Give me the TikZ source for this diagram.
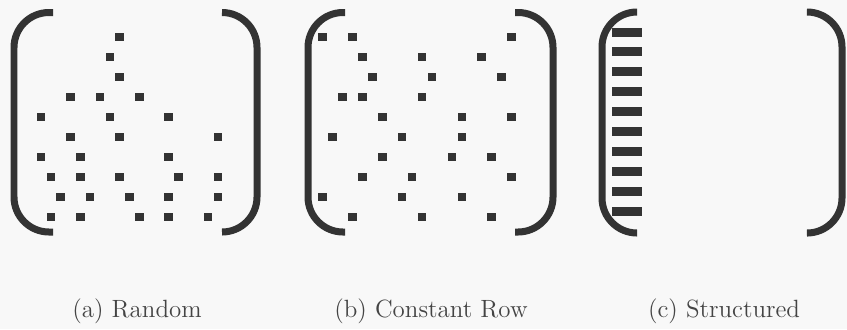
\documentclass[tikz,border=0pt]{standalone}
\usepackage{tikz}
\definecolor{mxink}  {HTML}{333333}
\definecolor{mxtext} {HTML}{444444}
\definecolor{mxpaper}{HTML}{F8F8F8}

\begin{document}
\begin{tikzpicture}[x=0.02cm, y=-0.02cm,
    bracket/.style={draw=mxink, line width=0.14cm, rounded corners=0.7cm},
    every node/.style={font=\fontsize{14.2}{17}\selectfont, text=mxtext}]
      \fill[mxpaper] (0,0) rectangle (847,329);
      \useasboundingbox (0,0) rectangle (847,329);
      % brackets
      \draw[bracket] (53,12.5) -- (14,12.5) -- (14,232) -- (53,232);
      \draw[bracket] (222,12.5) -- (257,12.5) -- (257,232) -- (222,232);
      \draw[bracket] (345,12.5) -- (308,12.5) -- (308,232) -- (345,232);
      \draw[bracket] (515,12.5) -- (553,12.5) -- (553,232) -- (515,232);
      \draw[bracket] (637,12) -- (602,12) -- (602,233) -- (637,233);
      \draw[bracket] (808,12) -- (842,12) -- (842,233) -- (808,233);
      % random
      \foreach \r/\cols in {0/{8}, 1/{7}, 2/{8}, 3/{3,6,10}, 4/{0,7,13},
                            5/{3,8,18}, 6/{0,4,13}, 7/{1,4,8,14,18},
                            8/{2,5,9,13,18}, 9/{1,4,10,13,17}}
        \foreach \c in \cols
          \fill[mxink] ({41+9.83*\c},{37+20*\r}) +(-4.3,-4.3) rectangle +(4.3,4.3);
      % constant row
      \foreach \r/\cols in {0/{0,3,19}, 1/{4,10,16}, 2/{5,11,18}, 3/{2,4,10},
                            4/{6,14,19}, 5/{1,8,14}, 6/{6,13,17}, 7/{4,9,19},
                            8/{0,8,14}, 9/{3,10,17}}
        \foreach \c in \cols
          \fill[mxink] ({322.5+9.95*\c},{37+20*\r}) +(-4.3,-4.3) rectangle +(4.3,4.3);
      % structured
      \foreach \r in {0,...,9}
        \fill[mxink] (612,{32+19.9*\r-4.5}) rectangle ++(30,9);
      \node[anchor=base] (capa) at (137,317) {(a) Random};
      \node[anchor=base] (capb) at (431,317) {(b) Constant Row};
      \node[anchor=base] (capc) at (724,317) {(c) Structured};
    \end{tikzpicture}
\end{document}
